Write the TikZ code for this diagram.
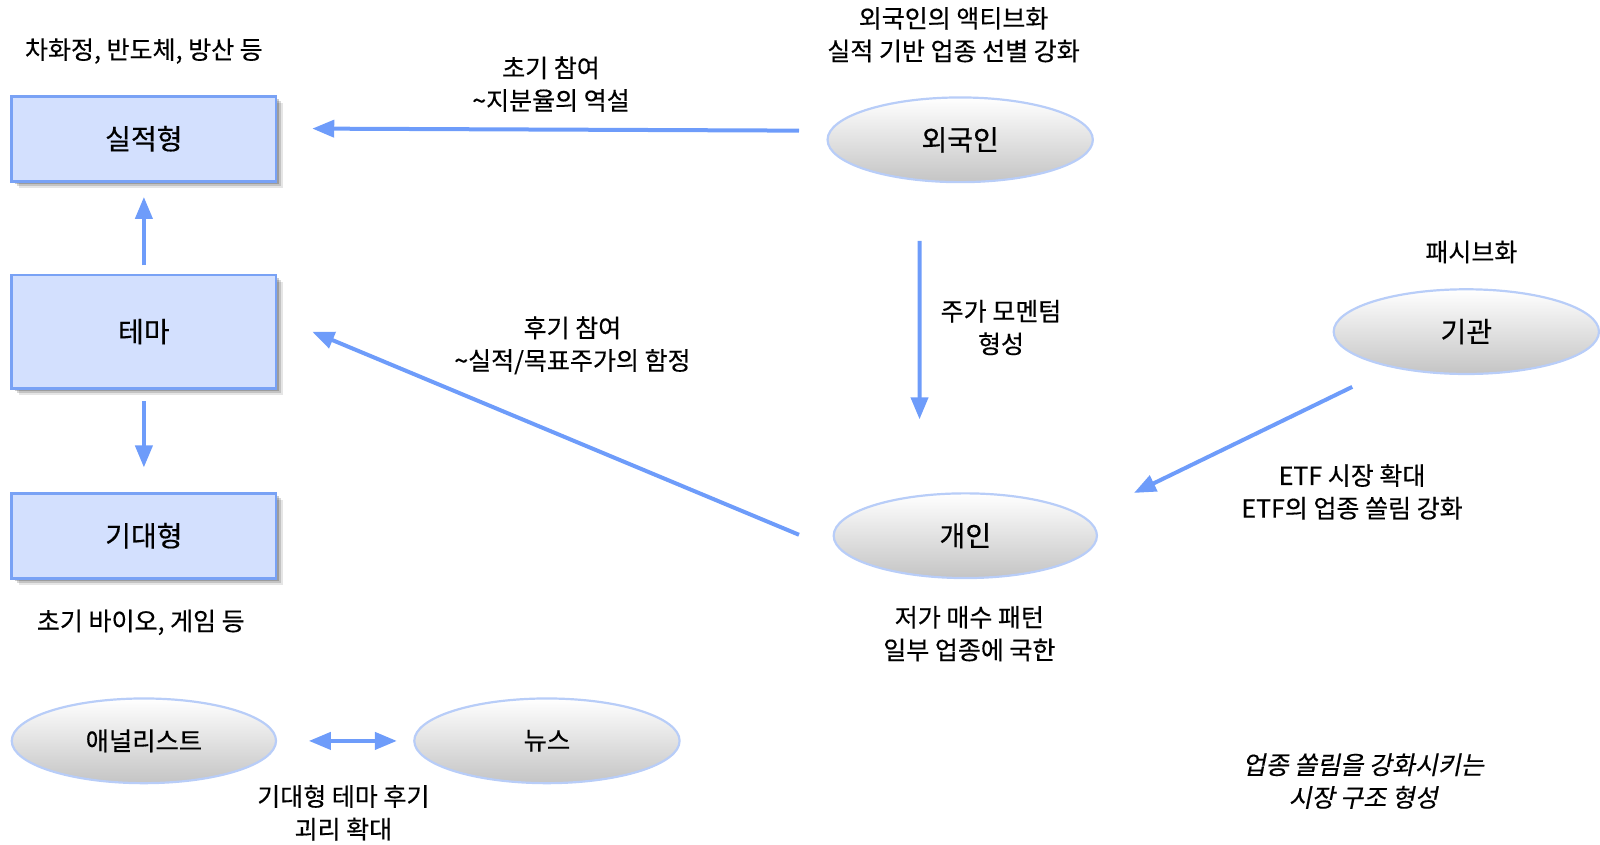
\documentclass[tikz,border=0pt]{standalone}
\usepackage{fontspec}
\setmainfont{Noto Sans CJK KR}[FakeBold=0.4]
\usetikzlibrary{shapes.geometric,arrows.meta,shadows}
\definecolor{boxfill}{HTML}{D3E0FE}
\definecolor{boxline}{HTML}{79A2F5}
\definecolor{elline}{HTML}{B8CDF8}
\definecolor{arr}{HTML}{6E9CFA}
\tikzset{
  boxnode/.style={draw=boxline, line width=2.9pt, fill=boxfill, minimum width=259pt, minimum height=83pt, inner sep=0pt, font=\fontsize{27.5}{30}\selectfont,
    drop shadow={shadow xshift=7pt, shadow yshift=-7pt, opacity=0.10, fill=black},
    drop shadow={shadow xshift=5pt, shadow yshift=-5pt, opacity=0.15, fill=black},
    drop shadow={shadow xshift=3pt, shadow yshift=-3pt, opacity=0.20, fill=black}},
  ellnode/.style={ellipse, draw=elline, line width=2.2pt, top color=white, bottom color=black!23, minimum width=260pt, minimum height=83pt, inner sep=0pt, font=\fontsize{27.5}{30}\selectfont},
  lbl/.style={align=center, font=\fontsize{24.5}{32}\selectfont, inner sep=0pt},
  conn/.style={draw=arr, line width=4pt, -{Triangle[length=22pt,width=17pt]}},
  dconn/.style={draw=arr, line width=4pt, {Triangle[length=22pt,width=17pt]}-{Triangle[length=22pt,width=17pt]}}
}
\begin{document}
\begin{tikzpicture}[x=1pt,y=-1pt,scale=1.02041,transform shape]
\useasboundingbox (0,0) rectangle (1568,828.1);
% boxes
\node[boxnode] (sil) at (141,136) {실적형};
\node[boxnode, minimum height=111pt] (tema) at (141,325) {테마};
\node[boxnode] (gi) at (141,525) {기대형};
\node[lbl] (t1) at (141,50) {차화정, 반도체, 방산 등};
\node[lbl] (t2) at (138,610) {초기 바이오, 게임 등};
% ellipses
\node[ellnode] (oe) at (941,137) {외국인};
\node[ellnode] (gw) at (1437,325) {기관};
\node[ellnode, minimum width=258pt] (gae) at (946,525) {개인};
\node[ellnode, minimum width=259pt, font=\fontsize{24.8}{28}\selectfont] (ana) at (141,726) {애널리스트};
\node[ellnode, font=\fontsize{24.8}{28}\selectfont] (news) at (536,726) {뉴스};
% texts
\node[lbl] (t3) at (934.5,34) {외국인의 액티브화\\실적 기반 업종 선별 강화};
\node[lbl] (t4) at (1442,247) {패시브화};
\node[lbl] (t5) at (950,621) {저가 매수 패턴\\일부 업종에 국한};
\node[lbl] (l1) at (540,82.5) {초기 참여\\\textasciitilde 지분율의 역설};
\node[lbl] (l2) at (561,338.5) {후기 참여\\\textasciitilde 실적/목표주가의 함정};
\node[lbl] (l3) at (981,321) {주가 모멘텀\\형성};
\node[lbl] (l4) at (1325,482) {ETF 시장 확대\\ETF의 업종 쏠림 강화};
\node[lbl] (l5) at (336.5,796.5) {기대형 테마 후기\\괴리 확대};
\node[lbl] (t6) at (1336,765.5) {\addfontfeature{FakeSlant=0.2}업종 쏠림을 강화시키는\\\addfontfeature{FakeSlant=0.2}시장 구조 형성};
% connectors
\draw[conn] ([shift={(-27,-9)}]oe.west) -- ([shift={(34,-10)}]sil.east);
\draw[conn] ([shift={(-33,-1)}]gae.west) -- ([xshift=34]tema.east);
\draw[conn] ([shift={(-40,56.5)}]oe.south) -- ([shift={(-45,-71.5)}]gae.north);
\draw[conn] ([shift={(-112,11.5)}]gw.south) -- ([shift={(35,-42)}]gae.east);
\draw[conn] ([yshift=8]tema.north) -- ([yshift=-14]sil.south);
\draw[conn] ([yshift=-11]tema.south) -- ([yshift=24]gi.north);
\draw[dconn] ([xshift=31]ana.east) -- ([xshift=-16]news.west);
\end{tikzpicture}
\end{document}
